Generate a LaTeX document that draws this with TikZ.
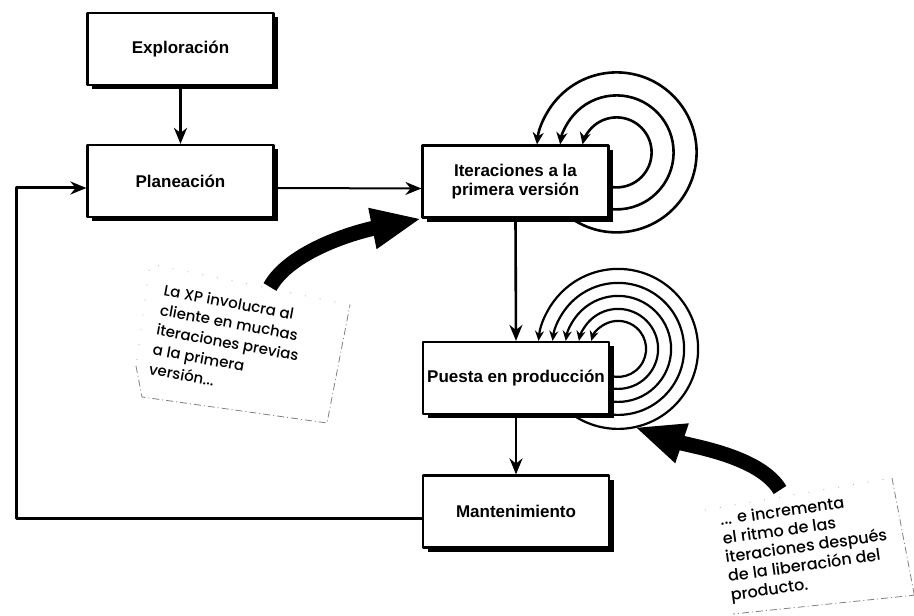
\documentclass[tikz,border=0pt]{standalone}
\usepackage{fontspec}
\setmainfont{Liberation Sans}
\newfontfamily\notefont{Poppins}[UprightFont={* Medium}]
\usetikzlibrary{arrows.meta,shadows,backgrounds,calc}

\tikzset{
  box/.style={draw,line width=2.2pt,fill=white,minimum width=186pt,minimum height=72pt,
    align=center,font=\fontsize{17}{19}\selectfont\bfseries,
    drop shadow={shadow xshift=4.5pt,shadow yshift=-4.5pt,fill=black,opacity=1}},
  flow/.style={line width=2.6pt,-{Stealth[length=16pt,width=13pt]}},
  spiral/.style={line width=2.6pt,-{Stealth[length=12pt,width=11pt]}},
  fat/.style={line width=15pt,-{Triangle[length=50pt,width=38pt]}},
  notetext/.style={align=left,inner sep=0pt,font=\notefont\fontsize{15}{20}\selectfont},
  paper/.style={gray,line width=.8pt,dash pattern=on 7pt off 3pt on 1pt off 3pt},
  faint/.style={gray!60,line width=.8pt,dash pattern=on 1pt off 14pt}
}

\begin{document}
\begin{tikzpicture}[x=1pt,y=1pt,line join=round,>=Stealth]
\useasboundingbox (0,0) rectangle (914,616);

% fases
\node[box] (expl) at (180.5,567) {Exploración};
\node[box] (plan) at (180.5,435) {Planeación};
\node[box] (iter) at (515.5,434.5) {Iteraciones a la\\primera versión};
\node[box] (prod) at (516,238) {Puesta en producción};
\node[box] (mant) at (516,104.5) {Mantenimiento};

% ciclos de iteracion
\begin{scope}[on background layer]
\coordinate (c1) at ([shift={(7,-8)}]iter.north east);
\foreach \r in {35,57,80}
  \draw[spiral] ([shift={(-130:\r pt)}]c1) arc[start angle=-130,end angle={180-asin(8/\r)},radius=\r pt];
\coordinate (c2) at ([shift={(8,-8)}]prod.north east);
\foreach \r in {28,40,53,66,80}
  \draw[spiral,line width=2.2pt,-{Stealth[length=10pt,width=9pt]}] ([shift={(-130:\r pt)}]c2) arc[start angle=-130,end angle={180-asin(8/\r)},radius=\r pt];
\end{scope}

% flujo
\draw[flow,line width=3pt] (expl.south) -- (plan.north);
\draw[flow,line width=2pt] ([yshift=-7pt]plan.east) -- ([yshift=-7pt]iter.west);
\draw[flow] (iter.south) -- (prod.north);
\draw[flow] (prod.south) -- (mant.north);
\draw[flow,line width=3pt] ([yshift=-7pt]mant.west) -| ([xshift=-70pt,yshift=-7pt]plan.west) -- ([yshift=-7pt]plan.west);

% notas
\node[notetext,anchor=north west,rotate=-10.5] (note1) at (165,332)
  {La XP involucra al\\cliente en muchas\\iteraciones previas\\a la primera\\versión...};
\node[notetext,anchor=north west,rotate=8,font=\notefont\fontsize{16}{19}\selectfont] (note2) at (719,103)
  {... e incrementa\\el ritmo de las\\iteraciones después\\de la liberación del\\producto.};
\draw[paper] (136,250) -- (142,219) -- (327,193) -- (350,311);
\draw[faint] (350,311) -- (150,352) -- (136,250);
\draw[faint] (705,106) -- (892,138);
\draw[paper] (892,138) -- (916,12);
\draw[paper] (916,21) -- (733,2);

% flechas gruesas
\coordinate (tail1) at (270,329);
\draw[fat] (tail1) .. controls (290,365) and (355,384) .. (iter.south west);
\coordinate (tail2) at (780,126);
\draw[fat] (tail2) .. controls (760,160) and (690,170) .. ([shift={(-78:80pt)}]c2);
\end{tikzpicture}
\end{document}
